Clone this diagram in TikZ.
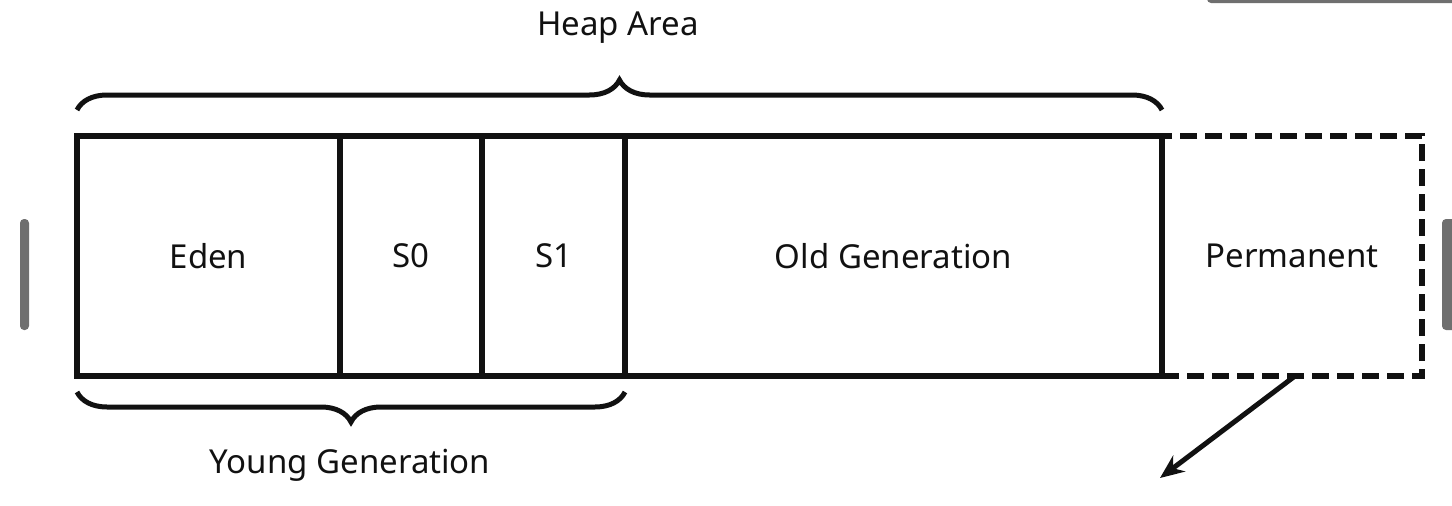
\documentclass[tikz,border=0pt]{standalone}
\usepackage{fontspec}
\setmainfont{Noto Sans}
\usetikzlibrary{arrows.meta, positioning, decorations.pathreplacing}
\definecolor{inkblk}{HTML}{111111}
\definecolor{bargray}{HTML}{6F6F6F}

\begin{document}
\begin{tikzpicture}[x=1pt, y=-1pt,
  >={Stealth[length=24pt, width=20pt]},
  cell/.style={
    draw=inkblk, line width=5.5pt, outer sep=0pt, inner sep=0pt,
    minimum height=240pt, font=\fontsize{33}{40}\selectfont, text=inkblk
  },
  permcell/.style={cell, dash pattern=on 17pt off 8pt},
  hbrace/.style={decorate, decoration={brace, amplitude=30pt},
    draw=inkblk, line width=5pt},
  lbl/.style={font=\fontsize{33}{40}\selectfont, text=inkblk},
  arr/.style={->, line width=5pt, inkblk},
  sidebar/.style={fill=bargray, rounded corners=4pt},
]
\useasboundingbox (0,0) rectangle (1452,506);

% Window edges
\fill[sidebar] (20,219) rectangle (29,330);
\fill[sidebar] (1442,219) rectangle (1460,330);
\fill[sidebar] (1207,-8) rectangle (1460,3);

% Heap cells
\node[cell, minimum width=263pt] (eden) at (208.5,256) {Eden};
\node[cell, minimum width=142pt, right=0pt of eden] (s0) {S0};
\node[cell, minimum width=143pt, right=0pt of s0] (s1) {S1};
\node[cell, minimum width=537pt, right=0pt of s1] (old) {Old Generation};
\node[permcell, minimum width=260pt, right=0pt of old] (perm) {Permanent};
% solid edge between old and permanent
\draw[inkblk, line width=5.5pt] (old.north east) -- (old.south east);

% Braces
\draw[hbrace] ([yshift=26pt]eden.north west) -- ([yshift=26pt]old.north east);
\node[lbl] (heap) at (618,28) {Heap Area};

\draw[hbrace] ([yshift=-16pt]s1.south east) -- ([yshift=-16pt]eden.south west);
\node[lbl] (young) at (350,465) {Young Generation};

% Arrow out of permanent
\coordinate (permout) at (1160,478);
\draw[arr] ([xshift=3pt]perm.south) -- (permout);

\end{tikzpicture}
\end{document}
